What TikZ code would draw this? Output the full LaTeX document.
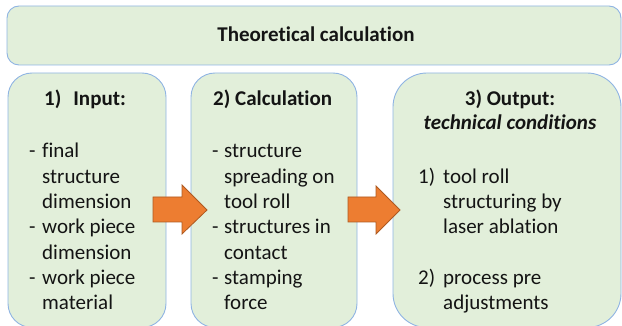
\documentclass[tikz,border=0pt]{standalone}
\usepackage{fontspec}
\setmainfont[Ligatures=NoCommon]{Carlito}
\definecolor{boxfill}{HTML}{E2EFDA}
\definecolor{boxline}{HTML}{8FB4E3}
\definecolor{arrfill}{HTML}{ED7D31}
\definecolor{arrline}{HTML}{AE5A21}
\definecolor{ink}{HTML}{141414}
\tikzset{
  panel/.style={draw=boxline, fill=boxfill, line width=0.9pt},
  txt/.style={inner sep=0pt, anchor=base west, text=ink, font=\fontsize{21}{25}\selectfont},
  head/.style={txt, font=\fontsize{21}{25}\selectfont\bfseries},
  blockarrow/.style={fill=arrfill, draw=arrline, line width=0.8pt, line join=miter},
}
\begin{document}
\begin{tikzpicture}[x=1pt, y=-1pt]
\useasboundingbox (0,0) rectangle (622,326);
\clip (0,0) rectangle (622,326);

% title banner
\draw[panel, rounded corners=12pt] (7,6) rectangle (621,65);
\node[head, anchor=base] (title) at (316,42) {Theoretical calculation};

% three stage panels
\draw[panel, rounded corners=24pt] (8,73) rectangle (166,327.5);
\draw[panel, rounded corners=24pt] (191,73) rectangle (357,327.5);
\draw[panel, rounded corners=34pt] (393,73) rectangle (621,327.5);

% block arrows between stages
\draw[blockarrow] (153,197) -- (182,197) -- (182,185) -- (207,210) -- (182,234) -- (182,222) -- (153,222) -- cycle;
\draw[blockarrow] (348,197) -- (376,197) -- (376,186) -- (400,210) -- (376,234) -- (376,222) -- (348,222) -- cycle;

% stage 1: input
\node[head] (h1) at (44,106) {1)\hspace{12pt}Input:};
\node[txt] (d11) at (29,158) {-};
\node[txt] (l11) at (42,158) {final};
\node[txt] (l12) at (42,183.3) {structure};
\node[txt] (l13) at (42,208.6) {dimension};
\node[txt] (d12) at (29,233.9) {-};
\node[txt] (l14) at (42,233.9) {work piece};
\node[txt] (l15) at (42,259.2) {dimension};
\node[txt] (d13) at (29,284.5) {-};
\node[txt] (l16) at (42,284.5) {work piece};
\node[txt] (l17) at (42,309.8) {material};

% stage 2: calculation
\node[head] (h2) at (213,106) {2) Calculation};
\node[txt] (d21) at (212,158) {-};
\node[txt] (l21) at (224,158) {structure};
\node[txt] (l22) at (224,183.3) {spreading on};
\node[txt] (l23) at (224,208.6) {tool roll};
\node[txt] (d22) at (212,233.9) {-};
\node[txt] (l24) at (224,233.9) {structures in};
\node[txt] (l25) at (224,259.2) {contact};
\node[txt] (d23) at (212,284.5) {-};
\node[txt] (l26) at (224,284.5) {stamping};
\node[txt] (l27) at (224,309.8) {force};

% stage 3: output
\node[head, anchor=base] (h3) at (510,106) {3) Output:};
\node[head, anchor=base, font=\fontsize{21}{25}\selectfont\bfseries\itshape] (h3b) at (510,130) {technical conditions};
\node[txt] (n31) at (418,183.3) {1)};
\node[txt] (l31) at (443,183.3) {tool roll};
\node[txt] (l32) at (443,208.6) {structuring by};
\node[txt] (l33) at (443,233.9) {laser ablation};
\node[txt] (n32) at (418,284.5) {2)};
\node[txt] (l34) at (443,284.5) {process pre};
\node[txt] (l35) at (443,309.8) {adjustments};
\end{tikzpicture}
\end{document}
